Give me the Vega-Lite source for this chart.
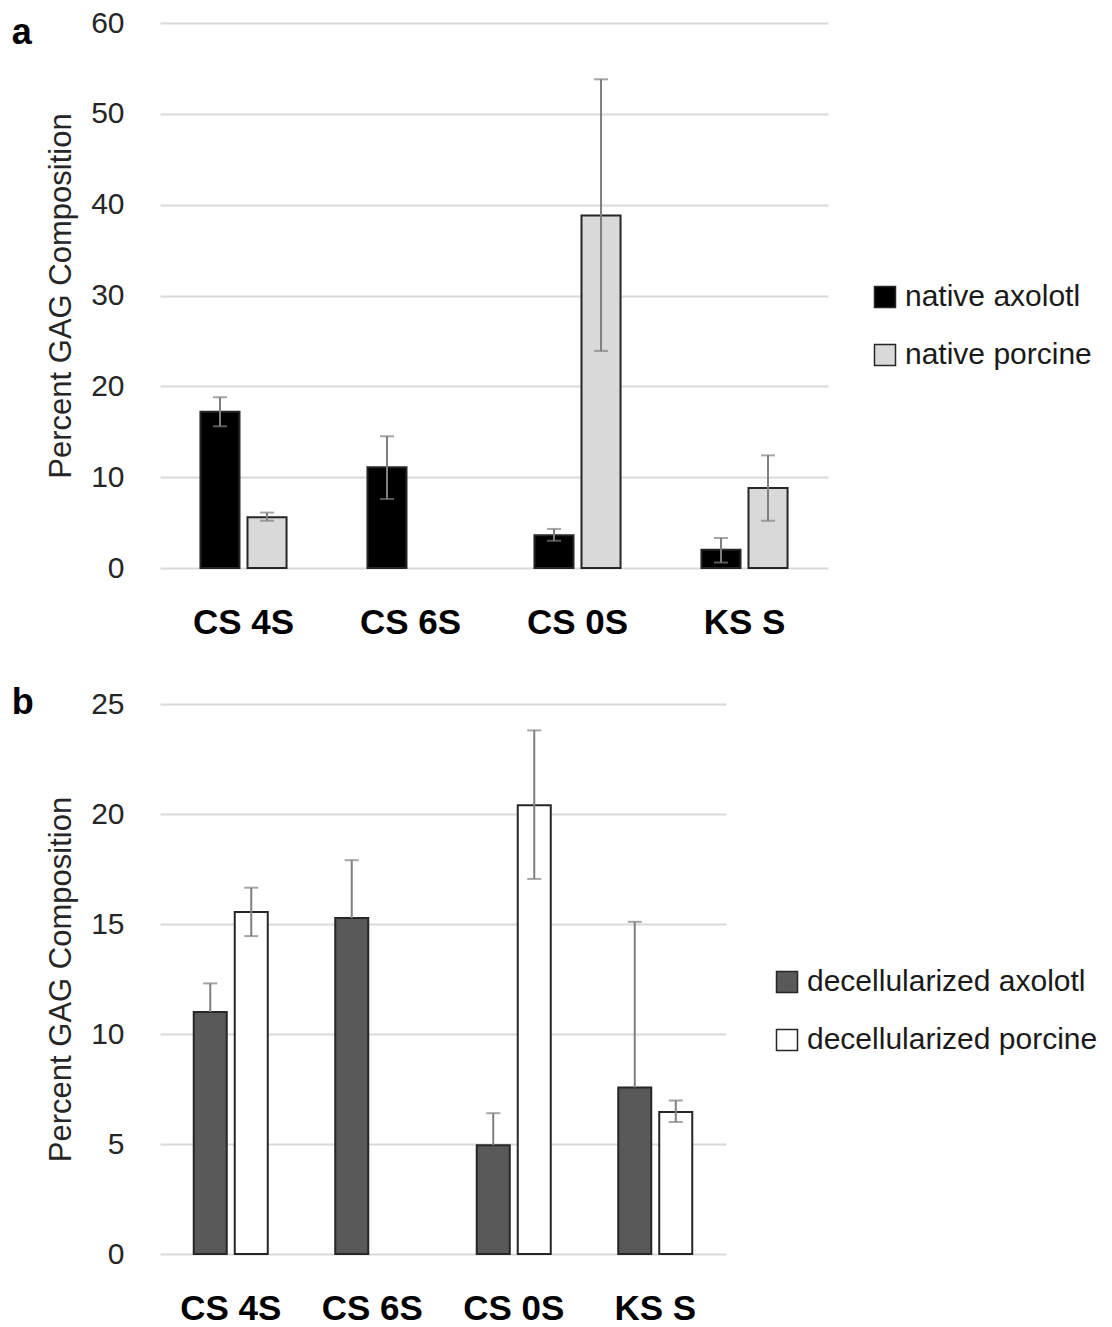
{
  "$schema": "https://vega.github.io/schema/vega-lite/v6.json",
  "background": "white",
  "padding": {"left": 11, "top": 8, "right": 5, "bottom": 0},
  "config": {
    "font": "Liberation Sans",
    "view": {"stroke": null},
    "axis": {"labelColor": "#262626", "titleColor": "#262626", "gridColor": "#d9d9d9", "gridWidth": 2},
    "legend": {"symbolType": "square", "symbolSize": 441, "labelFontSize": 30, "labelColor": "#1a1a1a", "rowPadding": 28, "labelOffset": 5, "symbolStrokeColor": "#262626", "symbolStrokeWidth": 1.5, "labelLimit": 400}
  },
  "datasets": {
    "a": [
      {"cat": "CS 4S", "series": "native axolotl", "value": 17.2, "lo": 15.6, "hi": 18.8},
      {"cat": "CS 4S", "series": "native porcine", "value": 5.6, "lo": 5.2, "hi": 6.1},
      {"cat": "CS 6S", "series": "native axolotl", "value": 11.1, "lo": 7.6, "hi": 14.5},
      {"cat": "CS 0S", "series": "native axolotl", "value": 3.6, "lo": 3.0, "hi": 4.3},
      {"cat": "CS 0S", "series": "native porcine", "value": 38.8, "lo": 23.9, "hi": 53.8},
      {"cat": "KS S", "series": "native axolotl", "value": 2.0, "lo": 0.6, "hi": 3.3},
      {"cat": "KS S", "series": "native porcine", "value": 8.8, "lo": 5.2, "hi": 12.4}
    ],
    "b": [
      {"cat": "CS 4S", "series": "decellularized axolotl", "value": 11.0, "lo": 11.0, "hi": 12.3},
      {"cat": "CS 4S", "series": "decellularized porcine", "value": 15.55, "lo": 14.45, "hi": 16.65},
      {"cat": "CS 6S", "series": "decellularized axolotl", "value": 15.27, "lo": 15.27, "hi": 17.9},
      {"cat": "CS 0S", "series": "decellularized axolotl", "value": 4.94, "lo": 4.94, "hi": 6.4},
      {"cat": "CS 0S", "series": "decellularized porcine", "value": 20.4, "lo": 17.05, "hi": 23.8},
      {"cat": "KS S", "series": "decellularized axolotl", "value": 7.57, "lo": 7.57, "hi": 15.1},
      {"cat": "KS S", "series": "decellularized porcine", "value": 6.45, "lo": 6.0, "hi": 6.98}
    ]
  },
  "spacing": 45,
  "resolve": {"scale": {"color": "independent", "x": "independent", "y": "independent", "xOffset": "independent"}, "legend": {"color": "independent"}},
  "vconcat": [
    {
      "width": 668,
      "height": 545,
      "title": {"text": "a", "anchor": "start", "frame": "bounds", "fontSize": 36, "fontWeight": "bold", "baseline": "alphabetic", "offset": 0, "dy": 72, "dx": -34, "color": "black"},
      "data": {"name": "a"},
      "encoding": {
        "x": {"field": "cat", "type": "nominal", "sort": ["CS 4S", "CS 6S", "CS 0S", "KS S"], "scale": {"paddingInner": 0, "paddingOuter": 0}, "axis": {"title": null, "labelAngle": 0, "labelFontSize": 35, "labelFontWeight": "bold", "labelPadding": 37, "ticks": false, "domain": false, "labelColor": "black", "grid": false}},
        "xOffset": {"field": "series", "type": "nominal", "sort": ["native axolotl", "native porcine"], "scale": {"paddingInner": 0.17, "paddingOuter": 0.86}}
      },
      "layer": [
        {
          "mark": {"type": "bar", "stroke": "#262626", "strokeWidth": 2},
          "encoding": {
            "y": {"field": "value", "type": "quantitative", "title": "Percent GAG Composition", "scale": {"domain": [0, 60], "nice": false}, "axis": {"values": [0, 10, 20, 30, 40, 50, 60], "domain": false, "ticks": false, "labelFontSize": 30, "labelPadding": 36, "titleFontSize": 31, "titleFontWeight": "normal", "titlePadding": 13}},
            "color": {"field": "series", "type": "nominal", "scale": {"domain": ["native axolotl", "native porcine"], "range": ["#000000", "#d9d9d9"]}, "legend": {"title": null, "orient": "none", "legendX": 710, "legendY": 259}}
          }
        },
        {
          "mark": {"type": "rule", "color": "#7f7f7f", "strokeWidth": 2},
          "encoding": {"y": {"field": "lo", "type": "quantitative", "title": "Percent GAG Composition"}, "y2": {"field": "hi"}}
        },
        {
          "mark": {"type": "tick", "color": "#7f7f7f", "size": 14, "thickness": 2},
          "encoding": {"y": {"field": "hi", "type": "quantitative", "title": "Percent GAG Composition"}}
        },
        {
          "transform": [{"filter": "datum.lo < datum.value"}],
          "mark": {"type": "tick", "color": "#7f7f7f", "size": 14, "thickness": 2},
          "encoding": {"y": {"field": "lo", "type": "quantitative", "title": "Percent GAG Composition"}}
        }
      ]
    },
    {
      "width": 566,
      "height": 550,
      "title": {"text": "b", "anchor": "start", "frame": "bounds", "fontSize": 36, "fontWeight": "bold", "baseline": "alphabetic", "offset": 0, "dy": 61, "dx": -34, "color": "black"},
      "data": {"name": "b"},
      "encoding": {
        "x": {"field": "cat", "type": "nominal", "sort": ["CS 4S", "CS 6S", "CS 0S", "KS S"], "scale": {"paddingInner": 0, "paddingOuter": 0}, "axis": {"title": null, "labelAngle": 0, "labelFontSize": 35, "labelFontWeight": "bold", "labelPadding": 37, "ticks": false, "domain": false, "labelColor": "black", "grid": false}},
        "xOffset": {"field": "series", "type": "nominal", "sort": ["decellularized axolotl", "decellularized porcine"], "scale": {"paddingInner": 0.195, "paddingOuter": 0.823}}
      },
      "layer": [
        {
          "mark": {"type": "bar", "stroke": "#262626", "strokeWidth": 2},
          "encoding": {
            "y": {"field": "value", "type": "quantitative", "title": "Percent GAG Composition", "scale": {"domain": [0, 25], "nice": false}, "axis": {"values": [0, 5, 10, 15, 20, 25], "domain": false, "ticks": false, "labelFontSize": 30, "labelPadding": 36, "titleFontSize": 31, "titleFontWeight": "normal", "titlePadding": 13}},
            "color": {"field": "series", "type": "nominal", "scale": {"domain": ["decellularized axolotl", "decellularized porcine"], "range": ["#595959", "#ffffff"]}, "legend": {"title": null, "orient": "none", "legendX": 612, "legendY": 263}}
          }
        },
        {
          "mark": {"type": "rule", "color": "#7f7f7f", "strokeWidth": 2},
          "encoding": {"y": {"field": "lo", "type": "quantitative", "title": "Percent GAG Composition"}, "y2": {"field": "hi"}}
        },
        {
          "mark": {"type": "tick", "color": "#7f7f7f", "size": 14, "thickness": 2},
          "encoding": {"y": {"field": "hi", "type": "quantitative", "title": "Percent GAG Composition"}}
        },
        {
          "transform": [{"filter": "datum.lo < datum.value"}],
          "mark": {"type": "tick", "color": "#7f7f7f", "size": 14, "thickness": 2},
          "encoding": {"y": {"field": "lo", "type": "quantitative", "title": "Percent GAG Composition"}}
        }
      ]
    }
  ]
}
